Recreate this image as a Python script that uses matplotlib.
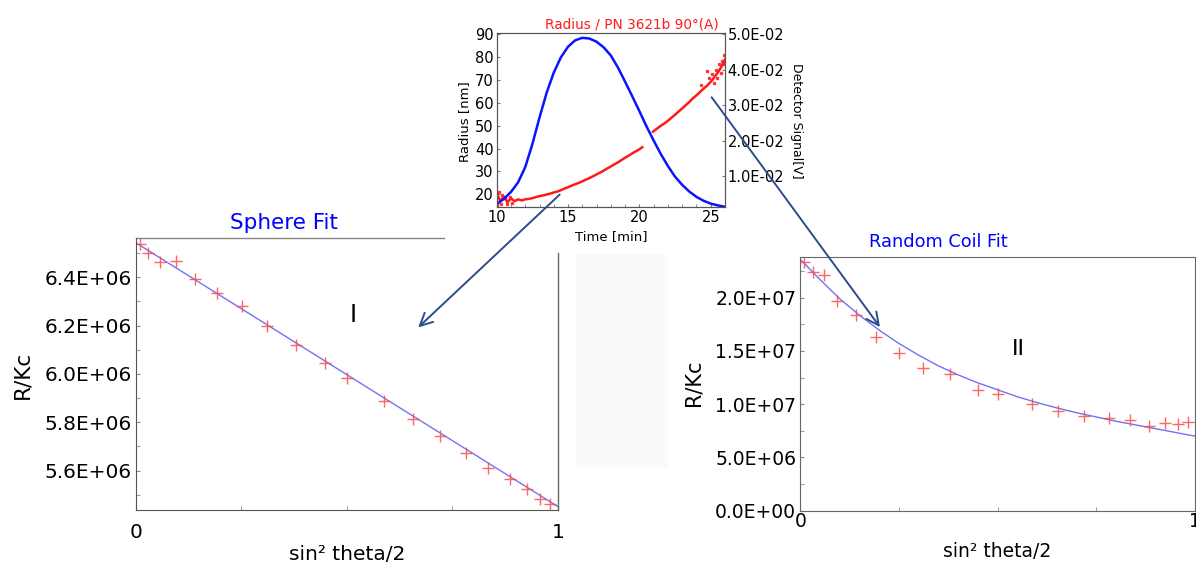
import matplotlib
matplotlib.use("Agg")
import matplotlib.pyplot as plt
from matplotlib.ticker import FuncFormatter, AutoMinorLocator, FixedLocator
from matplotlib.patches import Rectangle, FancyArrowPatch

plt.rcParams['font.family'] = ['DejaVu Sans']

# ---- inset: radius / detector signal vs time ----
red_t1 = [10.0, 10.25, 10.5, 10.75, 11.0, 11.25, 11.5, 11.75, 12.0, 12.25, 12.5, 12.75,
          13.0, 13.25, 13.5, 13.75, 14.0, 14.25, 14.5, 14.75, 15.0, 15.25, 15.5, 15.75,
          16.0, 16.25, 16.5, 16.75, 17.0, 17.25, 17.5, 17.75, 18.0, 18.25, 18.5, 18.75,
          19.0, 19.25, 19.5, 19.75, 20.0, 20.2]
red_r1 = [20.5, 17.0, 19.0, 16.5, 18.2, 17.0, 17.8, 17.3, 17.8, 18.0, 18.3, 18.8,
          19.2, 19.5, 19.9, 20.3, 20.8, 21.2, 21.8, 22.5, 23.1, 23.8, 24.4, 25.0,
          25.7, 26.4, 27.1, 27.9, 28.7, 29.5, 30.4, 31.3, 32.2, 33.1, 34.0, 35.0,
          36.0, 36.9, 37.9, 38.8, 39.7, 40.6]
red_t2 = [20.95, 21.25, 21.5, 21.75, 22.0, 22.25, 22.5, 22.75, 23.0, 23.25, 23.5, 23.75,
          24.0, 24.25, 24.5, 24.75, 25.0, 25.25, 25.5, 25.75, 26.0]
red_r2 = [47.4, 48.8, 50.0, 51.0, 52.2, 53.5, 54.8, 56.2, 57.6, 59.0, 60.4, 62.0,
          63.3, 64.8, 66.2, 67.6, 69.2, 71.2, 73.3, 75.8, 79.0]
noise_t = [10.05, 10.15, 10.3, 10.4, 10.6, 10.7, 10.9, 11.1, 24.3, 24.72, 24.9, 25.1,
           25.2, 25.35, 25.45, 25.6, 25.7, 25.8, 25.9, 25.95]
noise_r = [15.5, 21.0, 15.8, 19.8, 18.2, 15.6, 18.8, 16.4, 68.0, 74.1, 71.0, 72.8,
           68.8, 74.5, 70.8, 76.8, 73.2, 78.5, 81.0, 77.0]

blue_t = [10.0, 10.5, 11.0, 11.5, 12.0, 12.5, 13.0, 13.5, 14.0, 14.5, 15.0, 15.5,
          16.0, 16.5, 17.0, 17.5, 18.0, 18.5, 19.0, 19.5, 20.0, 20.5, 21.0, 21.5,
          22.0, 22.5, 23.0, 23.5, 24.0, 24.5, 25.0, 25.5, 26.0]
blue_v = [0.0021, 0.0035, 0.0055, 0.0082, 0.0125, 0.0190, 0.0265, 0.0335, 0.0392, 0.0435,
          0.0465, 0.0483, 0.0490, 0.0488, 0.0479, 0.0463, 0.0440, 0.0406, 0.0366, 0.0325,
          0.0283, 0.0240, 0.0200, 0.0162, 0.0128, 0.0098, 0.0075, 0.0056, 0.0041, 0.0030,
          0.0022, 0.0017, 0.0013]

# ---- sphere fit ----
sph_x = [0.010, 0.029, 0.058, 0.096, 0.140, 0.193, 0.251, 0.312, 0.380, 0.448,
         0.500, 0.588, 0.656, 0.720, 0.783, 0.835, 0.886, 0.927, 0.958, 0.982]
sph_y = [6.539e6, 6.500e6, 6.464e6, 6.467e6, 6.392e6, 6.334e6, 6.280e6, 6.197e6, 6.121e6, 6.046e6,
         5.985e6, 5.887e6, 5.815e6, 5.743e6, 5.673e6, 5.610e6, 5.564e6, 5.524e6, 5.483e6, 5.460e6]
sph_fit_x = [0.0, 1.0]
sph_fit_y = [6.543e6, 5.451e6]

# ---- random coil fit ----
coil_x = [0.010, 0.031, 0.060, 0.094, 0.140, 0.192, 0.250, 0.312, 0.380, 0.449,
          0.500, 0.588, 0.653, 0.719, 0.781, 0.835, 0.883, 0.925, 0.957, 0.981]
coil_y = [23.32e6, 22.45e6, 22.10e6, 19.72e6, 18.40e6, 16.30e6, 14.85e6, 13.39e6, 12.82e6, 11.38e6,
          11.00e6, 10.03e6, 9.37e6, 8.90e6, 8.74e6, 8.49e6, 7.99e6, 8.24e6, 8.15e6, 8.33e6]
coil_fit_x = [0.0, 0.05, 0.1, 0.15, 0.2, 0.25, 0.3, 0.35, 0.4, 0.45, 0.5,
              0.55, 0.6, 0.65, 0.7, 0.75, 0.8, 0.85, 0.9, 0.95, 1.0]
coil_fit_y = [23.6e6, 21.7e6, 19.9e6, 18.35e6, 16.95e6, 15.7e6, 14.6e6, 13.6e6, 12.75e6, 12.0e6, 11.35e6,
              10.7e6, 10.15e6, 9.65e6, 9.2e6, 8.8e6, 8.4e6, 8.05e6, 7.7e6, 7.35e6, 7.0e6]

W, H = 1196, 565
def fx(px):
    return px / W
def fy(py):
    return 1 - py / H

sci = FuncFormatter(lambda v, p: f'{v:.1E}')
fit_col = '#7272f5'
pt_col = '#ff4a4a'
arrow_col = '#2c4c8c'
spine_col = '#555555'

fig = plt.figure(figsize=(W / 100, H / 100), dpi=100)

# faint background patch
fig.patches.append(Rectangle((fx(576), fy(467)), (666 - 576) / W, (467 - 254) / H,
                             transform=fig.transFigure, color='#fbfafa', zorder=0))

# ---------- Sphere fit ----------
ax1 = fig.add_axes([fx(135.7), fy(510.3), (558 - 135.7) / W, (510.3 - 238.3) / H])
ax1.plot(sph_fit_x, sph_fit_y, color=fit_col, lw=1.0)
ax1.plot(sph_x, sph_y, '+', color=pt_col, ms=8, mew=1.0, alpha=0.85)
ax1.set_xlim(0, 1)
ax1.set_ylim(5.436e6, 6.561e6)
ax1.set_yticks([5.6e6, 5.8e6, 6.0e6, 6.2e6, 6.4e6])
ax1.yaxis.set_major_formatter(sci)
ax1.yaxis.set_minor_locator(AutoMinorLocator(2))
ax1.set_xticks([0, 1])
ax1.set_xticklabels(['0', '1'])
ax1.xaxis.set_minor_locator(FixedLocator([0.25, 0.5, 0.75]))
ax1.tick_params(axis='y', which='both', direction='in', length=3, color='#888', labelsize=14.5, pad=3)
ax1.tick_params(axis='x', which='both', direction='in', length=3, color='#888', labelsize=14.5, pad=9)
for s in ['top', 'right']:
    ax1.spines[s].set_visible(False)
for s in ['left', 'bottom']:
    ax1.spines[s].set_color(spine_col)
ax1.plot([0, 0.73], [1, 1], transform=ax1.transAxes, color='#888', lw=1, clip_on=False)
ax1.plot([1, 1], [0, 0.945], transform=ax1.transAxes, color='#666', lw=1, clip_on=False)
ax1.text(0.515, 6.244e6, 'I', fontsize=17, ha='center', va='center')
fig.text(fx(284), fy(223), 'Sphere Fit', color='#0000ff', fontsize=15.5, ha='center', va='center')
fig.text(fx(22), fy(375), 'R/Kc', fontsize=15.5, rotation=90, ha='center', va='center')
fig.text(fx(347), fy(555), 'sin² theta/2', fontsize=14.5, ha='center', va='center')

# ---------- Random coil fit ----------
ax2 = fig.add_axes([fx(800.3), fy(510.7), (1195 - 800.3) / W, (510.7 - 256.7) / H])
ax2.plot(coil_fit_x, coil_fit_y, color=fit_col, lw=1.0)
ax2.plot(coil_x, coil_y, '+', color=pt_col, ms=8, mew=1.0, alpha=0.85)
ax2.set_xlim(0, 1)
ax2.set_ylim(0, 2.385e7)
ax2.set_yticks([0, 5e6, 1e7, 1.5e7, 2e7])
ax2.yaxis.set_major_formatter(sci)
ax2.yaxis.set_minor_locator(AutoMinorLocator(2))
ax2.set_xticks([0, 1])
ax2.set_xticklabels(['0', '1'])
ax2.xaxis.set_minor_locator(FixedLocator([0.25, 0.5, 0.75]))
ax2.tick_params(axis='y', which='both', direction='in', length=3, color='#888', labelsize=13.5, pad=3)
ax2.tick_params(axis='x', which='both', direction='in', length=3, color='#888', labelsize=13.5, pad=1)
for s in ax2.spines.values():
    s.set_color('#666666')
ax2.text(0.552, 15.15e6, 'II', fontsize=16, ha='center', va='center')
fig.text(fx(938.6), fy(241.7), 'Random Coil Fit', color='#0000ff', fontsize=12.8, ha='center', va='center')
fig.text(fx(694), fy(383), 'R/Kc', fontsize=15, rotation=90, ha='center', va='center')
fig.text(fx(997.6), fy(551.7), 'sin² theta/2', fontsize=13.5, ha='center', va='center')

# ---------- Inset ----------
axi = fig.add_axes([fx(496.7), fy(207.3), (725 - 496.7) / W, (207.3 - 33.3) / H])
axi.plot(red_t1, red_r1, color='#ff1a1a', lw=1.8)
axi.plot(red_t2, red_r2, color='#ff1a1a', lw=1.8)
axi.plot(noise_t, noise_r, 's', color='#ff1a1a', ms=1.5, alpha=0.8)
axi.set_xlim(10, 26)
axi.set_ylim(14.31, 90.44)
axi.set_xticks([10, 15, 20, 25])
axi.xaxis.set_minor_locator(AutoMinorLocator(5))
axi.set_yticks([20, 30, 40, 50, 60, 70, 80, 90])
axi.tick_params(which='both', direction='in', length=2.5, color='#777', labelsize=10.5, pad=2)
axi2 = axi.twinx()
axi2.plot(blue_t, blue_v, color='#0a14ff', lw=1.8)
axi2.set_ylim(0.00116, 0.05028)
axi2.set_yticks([0.01, 0.02, 0.03, 0.04, 0.05])
axi2.yaxis.set_major_formatter(sci)
axi2.tick_params(which='both', direction='in', length=2.5, color='#777', labelsize=10.5, pad=2)
for a in (axi, axi2):
    for s in a.spines.values():
        s.set_color(spine_col)
fig.text(fx(631.7), fy(24), 'Radius / PN 3621b 90°(A)', color='#ff1a1a', fontsize=9.8,
         ha='center', va='center')
fig.text(fx(465), fy(121.7), 'Radius [nm]', fontsize=9.5, rotation=90, ha='center', va='center')
fig.text(fx(796), fy(120.7), 'Detector Signal[V]', fontsize=9, rotation=270, ha='center', va='center')
fig.text(fx(610.9), fy(236.7), 'Time [min]', fontsize=9.5, ha='center', va='center')

# ---------- arrows ----------
for (x0, y0), (x1, y1) in [((561.7, 192.7), (416.2, 329.3)), ((710.0, 95.0), (881.6, 329.3))]:
    fig.patches.append(FancyArrowPatch((fx(x0), fy(y0)), (fx(x1), fy(y1)),
                                       transform=fig.transFigure, arrowstyle='->,head_length=9,head_width=4.5',
                                       color=arrow_col, lw=1.4, mutation_scale=1, zorder=5))

fig.savefig('out.png', dpi=100)
